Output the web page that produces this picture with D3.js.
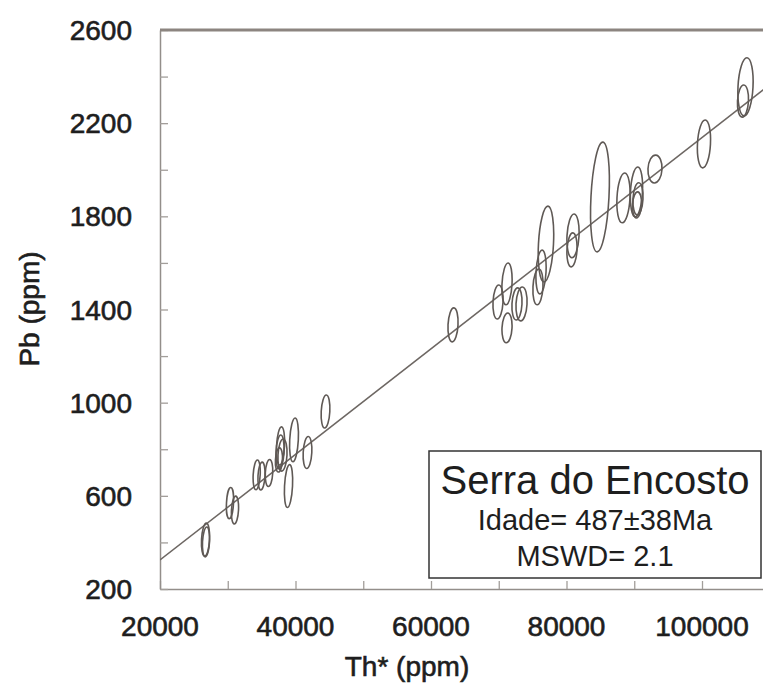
<!DOCTYPE html>
<html>
<head>
<meta charset="utf-8">
<script src="https://cdn.jsdelivr.net/npm/d3@7"></script>
<style>
  body { margin: 0; background: #fff; }
  text { font-family: "Liberation Sans", Arial, sans-serif; fill: #1e1e1e; }
  .heavy { stroke: #1e1e1e; stroke-width: 0.6px; }
</style>
</head>
<body>
<div id="chart"></div>
<script>
// spot centres (Th*, Pb) and half-axes of the error ellipses, in ppm
var thCenter = [26720, 26790, 30330, 31070, 34270, 34980, 36090, 37790, 37710, 37560,
  38080, 38970, 39780, 41770, 44430, 63250, 69890, 71220, 71220, 72690, 73360, 75790,
  76240, 76970, 80960, 80810, 84940, 88410, 90330, 90550, 90410, 93060, 100290, 106420, 106050];
var pbCenter = [412, 402, 569, 539, 690, 685, 698, 814, 788, 754,
  775, 642, 840, 786, 962, 1334, 1432, 1510, 1321, 1424, 1424, 1497,
  1561, 1681, 1716, 1656, 1883, 1879, 1905, 1875, 1849, 2003, 2111, 2356, 2295];
var thErr = [590, 517, 517, 517, 517, 517, 546, 590, 590, 517,
  664, 590, 635, 635, 635, 738, 738, 738, 738, 738, 812, 738,
  738, 1107, 886, 738, 1328, 959, 886, 738, 664, 1033, 959, 1107, 812];
var pbErr = [71, 64, 67, 60, 64, 60, 58, 82, 73, 52,
  69, 92, 94, 69, 71, 73, 73, 90, 64, 69, 73, 77,
  94, 163, 94, 73, 236, 107, 107, 69, 56, 60, 103, 125, 69];

// isochron fit
var slope = 0.02267, intercept = -129;

var yTicks = [200, 600, 1000, 1400, 1800, 2200, 2600];
var xTicks = [20000, 40000, 60000, 80000, 100000];
var legendLines = ["Serra do Encosto", "Idade= 487±38Ma", "MSWD= 2.1"];

var width = 763, height = 684;
var plotLeft = 160, plotRight = 769.75, plotTop = 30, plotBottom = 589;

var x = d3.scaleLinear().domain([20000, 110000]).range([plotLeft, plotRight]);
var y = d3.scaleLinear().domain([200, 2600]).range([plotBottom, plotTop]);

var svg = d3.select("#chart").append("svg")
    .attr("width", width)
    .attr("height", height);

svg.append("defs").append("clipPath")
    .attr("id", "plot-clip")
  .append("rect")
    .attr("x", plotLeft)
    .attr("y", plotTop)
    .attr("width", plotRight - plotLeft)
    .attr("height", plotBottom - plotTop);

// axes, ticks pointing inward
var xAxis = svg.append("g")
    .attr("transform", "translate(0," + plotBottom + ")")
    .call(d3.axisTop(x).tickValues(d3.range(20000, 110001, 10000)).tickSize(8).tickSizeOuter(0).tickFormat(""));
var yAxis = svg.append("g")
    .attr("transform", "translate(" + plotLeft + ",0)")
    .call(d3.axisRight(y).tickValues(d3.range(200, 2601, 200)).tickSize(8).tickSizeOuter(0).tickFormat(""));
[xAxis, yAxis].forEach(function(g) {
  g.select(".domain").attr("stroke", "#938e8a").attr("stroke-width", 1.5);
  g.selectAll(".tick line").attr("stroke", "#a29e9a").attr("stroke-width", 1.3);
});

// top frame
svg.append("line")
    .attr("x1", plotLeft).attr("x2", plotRight)
    .attr("y1", plotTop).attr("y2", plotTop)
    .attr("stroke", "#8c8580")
    .attr("stroke-width", 3);

svg.selectAll(".ylab")
    .data(yTicks)
    .enter()
  .append("text")
    .attr("class", "ylab heavy")
    .attr("x", 132)
    .attr("y", function(d) { return y(d) + 10; })
    .attr("text-anchor", "end")
    .style("font-size", "28px")
    .text(function(d) { return d; });

svg.selectAll(".xlab")
    .data(xTicks)
    .enter()
  .append("text")
    .attr("class", "xlab heavy")
    .attr("x", function(d) { return x(d); })
    .attr("y", 636)
    .attr("text-anchor", "middle")
    .style("font-size", "28px")
    .text(function(d) { return d; });

svg.append("text")
    .attr("class", "heavy")
    .attr("x", 407)
    .attr("y", 676)
    .attr("text-anchor", "middle")
    .style("font-size", "28px")
    .text("Th* (ppm)");

svg.append("text")
    .attr("class", "heavy")
    .attr("transform", "translate(39,309) rotate(-90)")
    .attr("text-anchor", "middle")
    .style("font-size", "28px")
    .text("Pb (ppm)");

var plot = svg.append("g").attr("clip-path", "url(#plot-clip)");

// regression line
plot.append("line")
    .attr("x1", x(20000))
    .attr("y1", y(intercept + slope * 20000))
    .attr("x2", x(110000))
    .attr("y2", y(intercept + slope * 110000))
    .attr("stroke", "#6d6763")
    .attr("stroke-width", 1.5);

// error ellipses
plot.selectAll("ellipse")
    .data(d3.range(thCenter.length))
    .enter()
  .append("ellipse")
    .attr("transform", function(i) {
      return "translate(" + x(thCenter[i]) + "," + y(pbCenter[i]) + ") rotate(3)";
    })
    .attr("rx", function(i) { return x(thCenter[i] + thErr[i]) - x(thCenter[i]); })
    .attr("ry", function(i) { return y(pbCenter[i]) - y(pbCenter[i] + pbErr[i]); })
    .attr("fill", "none")
    .attr("stroke", "#5f5955")
    .attr("stroke-width", 1.6);

// legend box
var box = svg.append("g");
box.append("rect")
    .attr("x", 429).attr("y", 451)
    .attr("width", 332).attr("height", 127)
    .attr("fill", "#fff")
    .attr("stroke", "#333")
    .attr("stroke-width", 1.5);
box.selectAll("text")
    .data(legendLines)
    .enter()
  .append("text")
    .attr("x", 595)
    .attr("y", function(d, i) { return [494, 530, 566][i]; })
    .attr("text-anchor", "middle")
    .style("font-size", function(d, i) { return i === 0 ? "40px" : "29px"; })
    .text(function(d) { return d; });
</script>
</body>
</html>
